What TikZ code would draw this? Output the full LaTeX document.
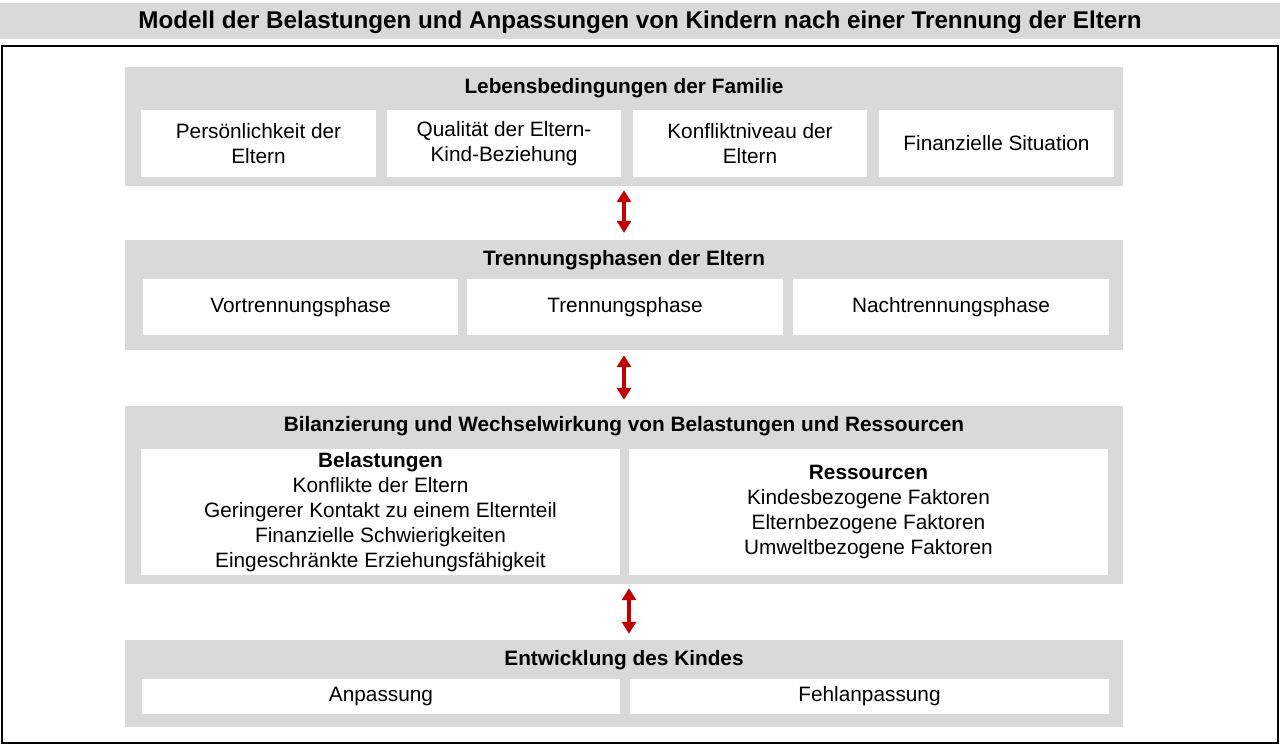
\documentclass[tikz,border=0pt]{standalone}
\usepackage{fontspec}
\setmainfont{Liberation Sans}
\usetikzlibrary{arrows.meta}
\definecolor{panel}{HTML}{D9D9D9}
\definecolor{arrred}{HTML}{C00000}
\begin{document}
\begin{tikzpicture}[x=1pt,y=-1pt,
  block/.style={fill=panel, draw=none, minimum width=998pt, inner sep=0pt},
  wbox/.style={fill=white, draw=none, inner sep=0pt, align=center, font=\fontsize{20.8}{25}\selectfont},
  btitle/.style={font=\bfseries\fontsize{20.8}{25}\selectfont, inner sep=0pt},
  link/.style={arrred, line width=4.5pt, {Triangle[width=14pt,length=12pt]}-{Triangle[width=14pt,length=12pt]}}
]
\useasboundingbox (0,0) rectangle (1280,745);
\fill[panel] (0,3) rectangle (1280,39);
\node[font=\bfseries\fontsize{24.2}{28}\selectfont, inner sep=0pt] (title) at (640,22) {Modell der Belastungen und Anpassungen von Kindern nach einer Trennung der Eltern};
\draw[line width=2pt] (2,46) rectangle (1278,743);

% block 1
\node[block, minimum height=119pt] (b1) at (624,126.5) {};
\node[btitle] (t1) at (624,88) {Lebensbedingungen der Familie};
\node[wbox, minimum width=235pt, minimum height=67pt] (p1) at (258.5,143.5) {Persönlichkeit der\\Eltern};
\node[wbox, minimum width=234pt, minimum height=67pt] (p2) at (504,143.5) {Qualität der Eltern-\\Kind-Beziehung};
\node[wbox, minimum width=234pt, minimum height=67pt] (p3) at (750,143.5) {Konfliktniveau der\\Eltern};
\node[wbox, minimum width=235pt, minimum height=67pt] (p4) at (996.5,143.5) {Finanzielle Situation};

% block 2
\node[block, minimum height=110pt] (b2) at (624,295) {};
\node[btitle] (t2) at (624,260) {Trennungsphasen der Eltern};
\node[wbox, minimum width=315pt, minimum height=56pt] (q1) at (300.5,307) {Vortrennungsphase};
\node[wbox, minimum width=316pt, minimum height=56pt] (q2) at (625,307) {Trennungsphase};
\node[wbox, minimum width=316pt, minimum height=56pt] (q3) at (951,307) {Nachtrennungsphase};

% block 3
\node[block, minimum height=178pt] (b3) at (624,495) {};
\node[btitle] (t3) at (624,426) {Bilanzierung und Wechselwirkung von Belastungen und Ressourcen};
\node[wbox, minimum width=479pt, minimum height=126pt] (r1) at (380.5,512) {\textbf{Belastungen}\\Konflikte der Eltern\\Geringerer Kontakt zu einem Elternteil\\Finanzielle Schwierigkeiten\\Eingeschränkte Erziehungsfähigkeit};
\node[wbox, minimum width=479pt, minimum height=126pt] (r2) at (868.5,512) {\textbf{Ressourcen}\\Kindesbezogene Faktoren\\Elternbezogene Faktoren\\Umweltbezogene Faktoren};

% block 4
\node[block, minimum height=87pt] (b4) at (624,683.5) {};
\node[btitle] (t4) at (624,660) {Entwicklung des Kindes};
\node[wbox, minimum width=478pt, minimum height=35pt] (s1) at (381,696.5) {Anpassung};
\node[wbox, minimum width=479pt, minimum height=35pt] (s2) at (869.5,696.5) {Fehlanpassung};

% arrows
\draw[link, shorten <=4pt, shorten >=7pt] (b1.south) -- (b2.north);
\draw[link, shorten <=5pt, shorten >=6pt] (b2.south) -- (b3.north);
\draw[link, shorten <=4pt, shorten >=6pt] ([xshift=5pt]b3.south) -- ([xshift=5pt]b4.north);
\end{tikzpicture}
\end{document}
